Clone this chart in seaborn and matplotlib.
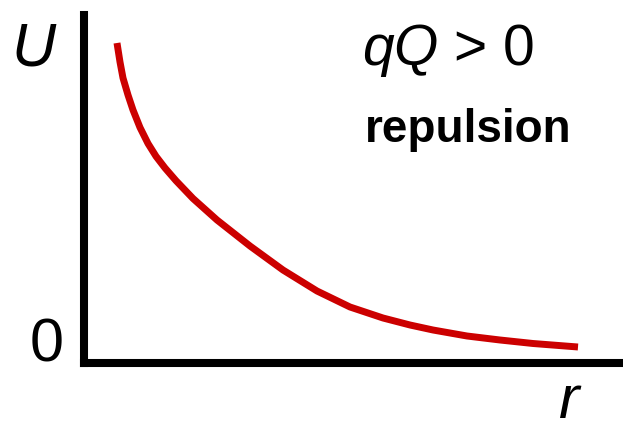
import matplotlib.pyplot as plt
import pandas as pd
import seaborn as sns

# points (r in units of 100 px from the U axis, U in units of 100 px above the r axis)
r_vals = [0.33, 0.36, 0.39, 0.44, 0.49, 0.56, 0.64, 0.72, 0.81, 0.92, 1.09, 1.33,
          1.66, 1.99, 2.33, 2.66, 2.99, 3.26, 3.49, 3.83, 4.16, 4.49, 4.94]
U_vals = [3.20, 3.01, 2.85, 2.68, 2.53, 2.355, 2.195, 2.067, 1.95, 1.823, 1.645, 1.43,
          1.17, 0.93, 0.72, 0.56, 0.45, 0.38, 0.33, 0.27, 0.23, 0.195, 0.16]

df = pd.DataFrame({'r': r_vals, 'U': U_vals})

sns.set_style('white')
plt.rcParams['font.family'] = ['Liberation Sans', 'DejaVu Sans']
plt.rcParams['text.color'] = 'black'
plt.rcParams['mathtext.fontset'] = 'custom'
plt.rcParams['mathtext.it'] = 'Liberation Sans:italic'
plt.rcParams['mathtext.rm'] = 'Liberation Sans'

W, H = 623, 426
fig = plt.figure(figsize=(W / 100, H / 100), dpi=100)
ax = fig.add_axes([84 / W, 1 - 363 / H, (W - 84) / W, (363 - 15) / H])

sns.lineplot(data=df, x='r', y='U', color='#cc0000', linewidth=5,
             solid_capstyle='butt', solid_joinstyle='round', ax=ax)

ax.set_xlim(0, (W - 84) / 100)
ax.set_ylim(0, (363 - 15) / 100)
ax.set_xticks([])
ax.set_yticks([])
ax.set_xlabel('')
ax.set_ylabel('')
for side in ['top', 'right']:
    ax.spines[side].set_visible(False)
for side in ['left', 'bottom']:
    ax.spines[side].set_linewidth(5.8)
    ax.spines[side].set_color('black')

# labels
fig.text(34 / W, 1 - 66 / H, '$U$', fontsize=44, ha='center', va='baseline')
fig.text(47 / W, 1 - 362 / H, '0', fontsize=44, ha='center', va='baseline')
fig.text(570 / W, 1 - 418 / H, '$r$', fontsize=44, ha='center', va='baseline')
fig.text(448 / W, 1 - 65 / H, '$qQ$ > 0', fontsize=41, ha='center', va='baseline')
fig.text(468 / W, 1 - 142 / H, 'repulsion', fontsize=33, fontweight='bold',
         ha='center', va='baseline')

fig.savefig('out.png', dpi=100)
